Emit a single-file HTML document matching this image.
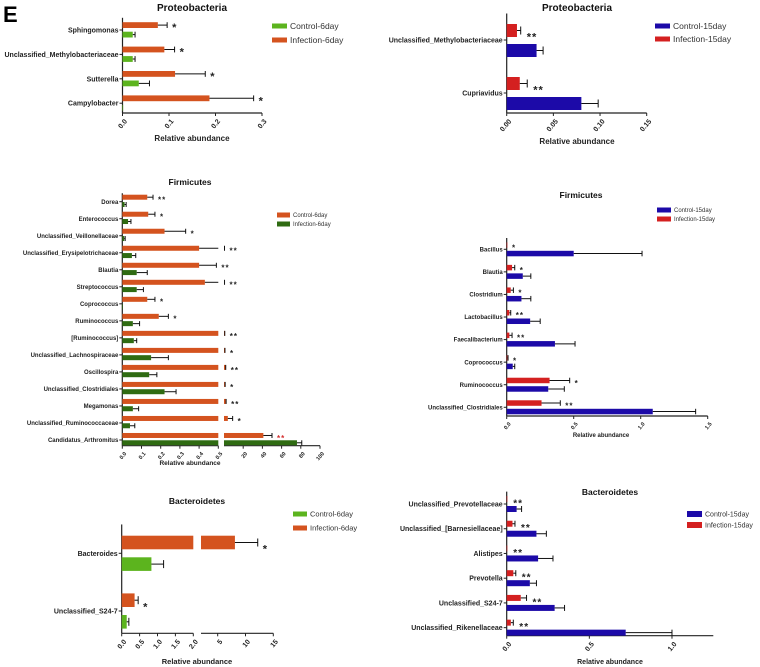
<!DOCTYPE html>
<html><head><meta charset="utf-8">
<style>
body{margin:0;background:#fff;}
svg{display:block;font-family:"Liberation Sans",Arial,sans-serif;}
</style></head>
<body>
<svg id="fig" width="760" height="667" viewBox="0 0 760 667" xmlns="http://www.w3.org/2000/svg">
<text x="3" y="22" font-size="22" font-weight="bold">E</text>
</svg>
<script>
// ---- Chart A: Proteobacteria 6 day ----
const catsA = ["Sphingomonas","Unclassified_Methylobacteriaceae","Sutterella","Campylobacter"];
const infA = [0.076,0.09,0.113,0.187];
const infSdA = [0.02,0.022,0.065,0.095];
const ctlA = [0.022,0.022,0.035,0];
const ctlSdA = [0.005,0.005,0.023,0];
const starsA = ["*","*","*","*"];
const ticksA = [0,0.1,0.2,0.3];
const tickLabA = ["0.0","0.1","0.2","0.3"];
// ---- Chart B: Proteobacteria 15 day ----
const catsB = ["Unclassified_Methylobacteriaceae","Cupriavidus"];
const infB = [0.011,0.014];
const infSdB = [0.004,0.008];
const ctlB = [0.032,0.08];
const ctlSdB = [0.007,0.018];
const starsB = ["**","**"];
const ticksB = [0,0.05,0.1,0.15];
const tickLabB = ["0.00","0.05","0.10","0.15"];
// ---- Chart C: Firmicutes 6 day ----
const catsC = ["Dorea","Enterococcus","Unclassified_Veillonellaceae","Unclassified_Erysipelotrichaceae","Blautia","Streptococcus","Coprococcus","Ruminococcus","[Ruminococcus]","Unclassified_Lachnospiraceae","Oscillospira","Unclassified_Clostridiales","Megamonas","Unclassified_Ruminococcaceae","Candidatus_Arthromitus"];
const topC = [0.13,0.135,0.22,0.4,0.4,0.43,0.13,0.19,0.6,0.8,1.5,1,2,4,41];
const topSdC = [0.03,0.035,0.11,0.12,0.09,0.12,0.04,0.05,0.2,0.2,0.3,0.2,0.2,5,9];
const botC = [0.012,0.03,0.01,0.05,0.075,0.075,0.003,0.055,0.06,0.15,0.14,0.22,0.055,0.04,76];
const botSdC = [0.008,0.015,0.005,0.02,0.055,0.035,0,0.035,0.015,0.09,0.04,0.06,0.03,0.025,5];
const starsC = ["**","*","*","**","**","**","*","*","**","*","**","*","**","*","**"];
const ticksC = [0,0.1,0.2,0.3,0.4,0.5,20,40,60,80,100];
const tickLabC = ["0.0","0.1","0.2","0.3","0.4","0.5","20","40","60","80","100"];
// ---- Chart D: Firmicutes 15 day ----
const catsD = ["Bacillus","Blautia","Clostridium","Lactobacillus","Faecalibacterium","Coprococcus","Ruminococcus","Unclassified_Clostridiales"];
const infD = [0.002,0.04,0.03,0.02,0.02,0.005,0.32,0.26];
const infSdD = [0,0.02,0.02,0.01,0.02,0.005,0.15,0.14];
const ctlD = [0.5,0.12,0.11,0.175,0.36,0.045,0.31,1.09];
const ctlSdD = [0.51,0.06,0.07,0.075,0.15,0.015,0.12,0.32];
const starsD = ["*","*","*","**","**","*","*","**"];
const ticksD = [0,0.5,1,1.5];
const tickLabD = ["0.0","0.5","1.0","1.5"];
// ---- Chart E: Bacteroidetes 6 day ----
const catsE = ["Bacteroides","Unclassified_S24-7"];
const infE = [8.1,0.36];
const infSdE = [4.1,0.1];
const ctlE = [0.83,0.14];
const ctlSdE = [0.34,0.06];
const starsE = ["*","*"];
const ticksE = [0,0.5,1,1.5,2,5,10,15];
const tickLabE = ["0.0","0.5","1.0","1.5","2.0","5","10","15"];
// ---- Chart F: Bacteroidetes 15 day ----
const catsF = ["Unclassified_Prevotellaceae","Unclassified_[Barnesiellaceae]","Alistipes","Prevotella","Unclassified_S24-7","Unclassified_Rikenellaceae"];
const infF = [0.003,0.035,0.003,0.04,0.085,0.025];
const infSdF = [0,0.015,0,0.015,0.035,0.015];
const ctlF = [0.06,0.18,0.19,0.14,0.29,0.72];
const ctlSdF = [0.03,0.06,0.09,0.04,0.06,0.28];
const starsF = ["**","**","**","**","**","**"];
const ticksF = [0,0.5,1];
const tickLabF = ["0.0","0.5","1.0"];

const NS="http://www.w3.org/2000/svg";
const fig=document.getElementById('fig');
function mk(tag,attrs,parent){const e=document.createElementNS(NS,tag);for(const k in attrs)e.setAttribute(k,attrs[k]);(parent||fig).appendChild(e);return e;}

function makeScale(segs){
  return function(v){
    for(let i=0;i<segs.length;i++){const s=segs[i];
      if(v<=s[1]||i===segs.length-1){const vv=Math.max(v,s[0]);return s[2]+(vv-s[0])/(s[1]-s[0])*(s[3]-s[2]);}
    }
  };
}

function chart(c){
  const g=mk('g',{});
  
  
  const sx=makeScale(c.segs);
  const x0=c.segs[0][2];
  const axisTop=c.y0-c.step*0.5;
  const t=mk('text',{x:c.titleX,y:c.titleY,'text-anchor':'middle','font-size':c.titleFs,'font-weight':'bold',fill:'#111'},g);
  t.textContent=c.title;
  
  
  const ya=mk('line',{x1:x0,x2:x0,y1:axisTop,y2:c.axisY,stroke:'#222','stroke-width':1.2},g);
  
  
  c.segs.forEach((s,i)=>{
    const xa=mk('line',{x1:s[2],x2:s[3],y1:c.axisY,y2:c.axisY,stroke:'#222','stroke-width':1.2},g);
    
    
  });
  c.ticks.forEach((v,i)=>{
    const x=sx(v);
    const tk=mk('line',{x1:x,x2:x,y1:c.axisY,y2:c.axisY+3,stroke:'#222','stroke-width':1},g);
    
    
    const tl=mk('text',{x:x+2,y:c.axisY+6,'text-anchor':'end','font-size':c.tickFs,'font-weight':'bold',fill:'#222',transform:`rotate(-50 ${x+2} ${c.axisY+6})`,'dominant-baseline':'hanging'},g);
    tl.textContent=c.tickLabels[i];
    
    
  });
  const xl=mk('text',{x:c.xlabX,y:c.xlabY,'text-anchor':'middle','font-size':c.xlabFs,'font-weight':'bold',fill:'#222'},g);
  xl.textContent='Relative abundance';
  
  
  const seg1End=c.segs[0][3];
  function bar(v,sd,y,h,color,nm){
    const xv=sx(v);
    if(c.segs.length>1 && v>c.segs[0][1]){
      const r1=mk('rect',{x:x0,y:y,width:seg1End-x0,height:h,fill:color},g);
      
      
      const r2=mk('rect',{x:c.segs[1][2],y:y,width:Math.max(0.8,xv-c.segs[1][2]),height:h,fill:color},g);
      
      
    } else {
      const r=mk('rect',{x:x0,y:y,width:Math.max(0.6,xv-x0),height:h,fill:color},g);
      
      
    }
    let xe=xv;
    if(sd>0){
      xe=sx(v+sd);
      const lineEnd=(c.segs.length>1&&v<=c.segs[0][1]&&v+sd>c.segs[0][1])?seg1End:xe;
      const el=mk('line',{x1:xv,x2:lineEnd,y1:y+h/2,y2:y+h/2,stroke:'#111','stroke-width':1},g);
      
      
      const cp=mk('line',{x1:xe,x2:xe,y1:y+h/2-Math.min(h/2,4),y2:y+h/2+Math.min(h/2,4),stroke:'#111','stroke-width':1},g);
      
      
    }
    return xe;
  }
  c.cats.forEach((cat,i)=>{
    const cy=c.y0+i*c.step;
    const yt=mk('line',{x1:x0-3,x2:x0,y1:cy,y2:cy,stroke:'#222','stroke-width':1},g);
    
    
    const cl=mk('text',{x:x0-4,y:cy+c.catFs*0.35,'text-anchor':'end','font-size':c.catFs,'font-weight':'bold',fill:'#222'},g);
    cl.textContent=cat;
    
    
    const e1=bar(c.top[i],c.topSd[i],cy-c.gapT-c.h,c.h,c.topColor,'bar-top-'+i);
    const e2=bar(c.bot[i],c.botSd[i],cy+c.gapB,c.h,c.botColor,'bar-bottom-'+i);
    const sxp=Math.max(e1,sx(c.top[i]))+c.starDx;
    const st=mk('text',{x:sxp,y:cy-c.gapT-c.h/2+c.starFs*0.55+c.starDy,'font-size':c.starFs,'font-weight':'bold',fill:(c.starColors&&c.starColors[i])||'#222','letter-spacing':'1'},g);
    st.textContent=c.stars[i];
    
    
  });
  c.legend.items.forEach((it,i)=>{
    const ly=c.legend.y+i*c.legend.dy;
    const sw=mk('rect',{x:c.legend.x,y:ly-c.legend.sh/2,width:c.legend.sw,height:c.legend.sh,fill:it[1]},g);
    
    
    const lt=mk('text',{x:c.legend.x+c.legend.sw+3,y:ly+c.legend.fs*0.36,'font-size':c.legend.fs,fill:'#333'},g);
    lt.textContent=it[0];
    
    
  });
}
const OR='#d4531f',GR='#5cb41e',DG='#2f6b12',BL='#1c0aa8',RD='#d42020';

chart({name:'chart-proteobacteria-6day',segs:[[0,0.3,122.5,262]],ticks:ticksA,tickLabels:tickLabA,cats:catsA,
 top:infA,topSd:infSdA,bot:ctlA,botSd:ctlSdA,stars:starsA,topColor:OR,botColor:GR,
 y0:30,step:24.4,h:5.8,gapT:2,gapB:1.7,axisY:113,title:'Proteobacteria',titleX:192,titleY:11,titleFs:10,
 tickFs:7,catFs:7,xlabX:192,xlabY:141,xlabFs:8,starFs:11,starDx:5,starDy:0,
 legend:{x:272,y:26,dy:14,sw:15,sh:5,fs:8.5,items:[['Control-6day',GR],['Infection-6day',OR]]}});

chart({name:'chart-proteobacteria-15day',segs:[[0,0.15,506.7,646.7]],ticks:ticksB,tickLabels:tickLabB,cats:catsB,
 top:infB,topSd:infSdB,bot:ctlB,botSd:ctlSdB,stars:starsB,topColor:RD,botColor:BL,
 y0:40,step:53,h:13,gapT:3,gapB:4,axisY:113,title:'Proteobacteria',titleX:577,titleY:11,titleFs:10,
 tickFs:7,catFs:7,xlabX:577,xlabY:144,xlabFs:8,starFs:11,starDx:6,starDy:4,
 legend:{x:655,y:26,dy:13,sw:15,sh:5,fs:8.5,items:[['Control-15day',BL],['Infection-15day',RD]]}});

chart({name:'chart-firmicutes-6day',segs:[[0,0.5,122.3,218.3],[0,100,224,320]],ticks:ticksC,tickLabels:tickLabC,cats:catsC,
 top:topC,topSd:topSdC,bot:botC,botSd:botSdC,stars:starsC,starColors:{14:'#d43030'},topColor:OR,botColor:DG,
 y0:201.7,step:17.02,h:5,gapT:2,gapB:0.3,axisY:445.7,title:'Firmicutes',titleX:190,titleY:185,titleFs:8.5,
 tickFs:5.5,catFs:6,xlabX:190,xlabY:465,xlabFs:6.5,starFs:8,starDx:5,starDy:1,
 legend:{x:277,y:215,dy:9,sw:13,sh:5,fs:6,items:[['Control-6day',OR],['Infection-6day',DG]]}});

chart({name:'chart-firmicutes-15day',segs:[[0,1.5,506.7,707.7]],ticks:ticksD,tickLabels:tickLabD,cats:catsD,
 top:infD,topSd:infSdD,bot:ctlD,botSd:ctlSdD,stars:starsD,topColor:RD,botColor:BL,
 y0:249.3,step:22.57,h:5.5,gapT:1.5,gapB:1.5,axisY:416,title:'Firmicutes',titleX:581,titleY:198,titleFs:8.5,
 tickFs:5.5,catFs:6,xlabX:601,xlabY:437,xlabFs:6,starFs:8,starDx:5,starDy:1,
 legend:{x:657,y:210,dy:9,sw:14,sh:5,fs:6,items:[['Control-15day',BL],['Infection-15day',RD]]}});

chart({name:'chart-bacteroidetes-6day',segs:[[0,2,121.7,193.3],[2,15,201,273.3]],ticks:ticksE,tickLabels:tickLabE,cats:catsE,
 top:infE,topSd:infSdE,bot:ctlE,botSd:ctlSdE,stars:starsE,topColor:OR,botColor:GR,
 y0:553.3,step:57.7,h:13.6,gapT:4,gapB:4,axisY:633.3,title:'Bacteroidetes',titleX:197,titleY:504,titleFs:8.5,
 tickFs:7,catFs:7,xlabX:197,xlabY:664,xlabFs:7.5,starFs:11,starDx:5,starDy:4,
 legend:{x:293,y:514,dy:14,sw:14,sh:5,fs:7.5,items:[['Control-6day',GR],['Infection-6day',OR]]}});

chart({name:'chart-bacteroidetes-15day',segs:[[0,1.25,506.7,713.3]],ticks:ticksF,tickLabels:tickLabF,cats:catsF,
 top:infF,topSd:infSdF,bot:ctlF,botSd:ctlSdF,stars:starsF,topColor:RD,botColor:BL,
 y0:504,step:24.73,h:6,gapT:2,gapB:2,axisY:635.7,title:'Bacteroidetes',titleX:610,titleY:495,titleFs:8.5,
 tickFs:7,catFs:7,xlabX:610,xlabY:664,xlabFs:7,starFs:10,starDx:6,starDy:2,
 legend:{x:687,y:514,dy:11,sw:15,sh:6,fs:7,items:[['Control-15day',BL],['Infection-15day',RD]]}});
</script>
</body></html>
